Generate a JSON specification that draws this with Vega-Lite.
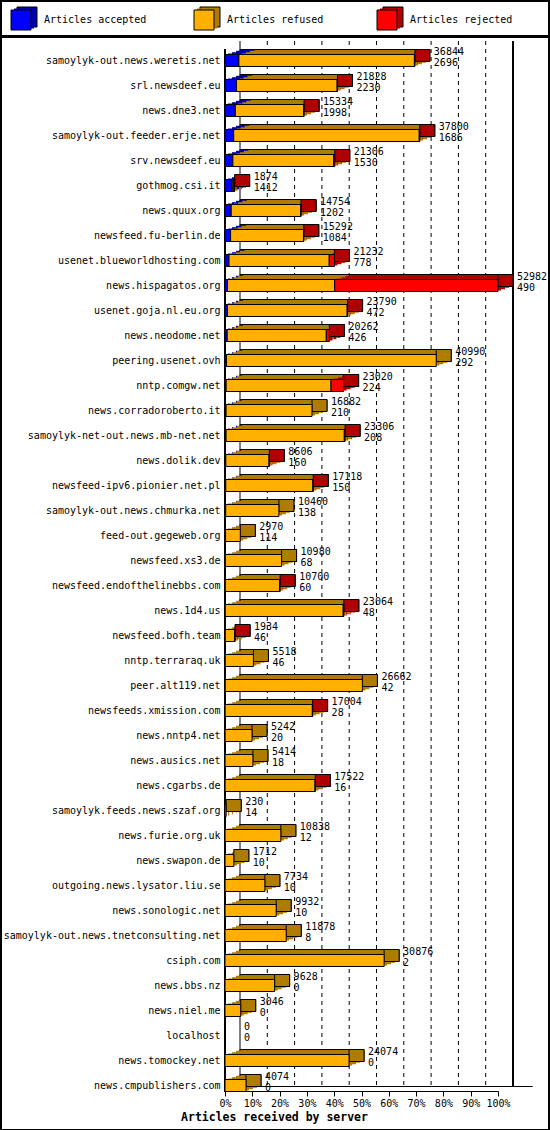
{
  "$schema": "https://vega.github.io/schema/vega-lite/v6.json",
  "padding": 0,
  "background": "white",
  "spacing": -2,
  "datasets": {
    "servers": [
      {"s": "samoylyk-out.news.weretis.net", "total": 36844, "accepted": 2696, "refused": 34068, "rejected": 80, "last": "rejected"},
      {"s": "srl.newsdeef.eu", "total": 21828, "accepted": 2230, "refused": 19538, "rejected": 60, "last": "rejected"},
      {"s": "news.dne3.net", "total": 15334, "accepted": 1998, "refused": 13286, "rejected": 50, "last": "rejected"},
      {"s": "samoylyk-out.feeder.erje.net", "total": 37800, "accepted": 1686, "refused": 36014, "rejected": 100, "last": "rejected"},
      {"s": "srv.newsdeef.eu", "total": 21306, "accepted": 1530, "refused": 19576, "rejected": 200, "last": "rejected"},
      {"s": "gothmog.csi.it", "total": 1874, "accepted": 1412, "refused": 310, "rejected": 152, "last": "rejected"},
      {"s": "news.quux.org", "total": 14754, "accepted": 1202, "refused": 13492, "rejected": 60, "last": "rejected"},
      {"s": "newsfeed.fu-berlin.de", "total": 15292, "accepted": 1084, "refused": 14148, "rejected": 60, "last": "rejected"},
      {"s": "usenet.blueworldhosting.com", "total": 21232, "accepted": 778, "refused": 19454, "rejected": 1000, "last": "rejected"},
      {"s": "news.hispagatos.org", "total": 52982, "accepted": 490, "refused": 20802, "rejected": 31690, "last": "rejected"},
      {"s": "usenet.goja.nl.eu.org", "total": 23790, "accepted": 472, "refused": 23238, "rejected": 80, "last": "rejected"},
      {"s": "news.neodome.net", "total": 20262, "accepted": 426, "refused": 19236, "rejected": 600, "last": "rejected"},
      {"s": "peering.usenet.ovh", "total": 40990, "accepted": 292, "refused": 40698, "rejected": 0, "last": "refused"},
      {"s": "nntp.comgw.net", "total": 23020, "accepted": 224, "refused": 20346, "rejected": 2450, "last": "rejected"},
      {"s": "news.corradoroberto.it", "total": 16882, "accepted": 210, "refused": 16672, "rejected": 0, "last": "refused"},
      {"s": "samoylyk-net-out.news.mb-net.net", "total": 23306, "accepted": 208, "refused": 22948, "rejected": 150, "last": "rejected"},
      {"s": "news.dolik.dev", "total": 8606, "accepted": 160, "refused": 8396, "rejected": 50, "last": "rejected"},
      {"s": "newsfeed-ipv6.pionier.net.pl", "total": 17118, "accepted": 150, "refused": 16908, "rejected": 60, "last": "rejected"},
      {"s": "samoylyk-out.news.chmurka.net", "total": 10460, "accepted": 138, "refused": 10322, "rejected": 0, "last": "refused"},
      {"s": "feed-out.gegeweb.org", "total": 2970, "accepted": 114, "refused": 2856, "rejected": 0, "last": "refused"},
      {"s": "newsfeed.xs3.de", "total": 10980, "accepted": 68, "refused": 10912, "rejected": 0, "last": "refused"},
      {"s": "newsfeed.endofthelinebbs.com", "total": 10700, "accepted": 60, "refused": 10540, "rejected": 100, "last": "rejected"},
      {"s": "news.1d4.us", "total": 23064, "accepted": 48, "refused": 22896, "rejected": 120, "last": "rejected"},
      {"s": "newsfeed.bofh.team", "total": 1934, "accepted": 46, "refused": 1848, "rejected": 40, "last": "rejected"},
      {"s": "nntp.terraraq.uk", "total": 5518, "accepted": 46, "refused": 5472, "rejected": 0, "last": "refused"},
      {"s": "peer.alt119.net", "total": 26662, "accepted": 42, "refused": 26620, "rejected": 0, "last": "refused"},
      {"s": "newsfeeds.xmission.com", "total": 17004, "accepted": 28, "refused": 16926, "rejected": 50, "last": "rejected"},
      {"s": "news.nntp4.net", "total": 5242, "accepted": 20, "refused": 5222, "rejected": 0, "last": "refused"},
      {"s": "news.ausics.net", "total": 5414, "accepted": 18, "refused": 5396, "rejected": 0, "last": "refused"},
      {"s": "news.cgarbs.de", "total": 17522, "accepted": 16, "refused": 17466, "rejected": 40, "last": "rejected"},
      {"s": "samoylyk.feeds.news.szaf.org", "total": 230, "accepted": 14, "refused": 216, "rejected": 0, "last": "refused"},
      {"s": "news.furie.org.uk", "total": 10838, "accepted": 12, "refused": 10826, "rejected": 0, "last": "refused"},
      {"s": "news.swapon.de", "total": 1712, "accepted": 10, "refused": 1702, "rejected": 0, "last": "refused"},
      {"s": "outgoing.news.lysator.liu.se", "total": 7734, "accepted": 10, "refused": 7724, "rejected": 0, "last": "refused"},
      {"s": "news.sonologic.net", "total": 9932, "accepted": 10, "refused": 9922, "rejected": 0, "last": "refused"},
      {"s": "samoylyk-out.news.tnetconsulting.net", "total": 11878, "accepted": 8, "refused": 11870, "rejected": 0, "last": "refused"},
      {"s": "csiph.com", "total": 30876, "accepted": 2, "refused": 30874, "rejected": 0, "last": "refused"},
      {"s": "news.bbs.nz", "total": 9628, "accepted": 0, "refused": 9628, "rejected": 0, "last": "refused"},
      {"s": "news.niel.me", "total": 3046, "accepted": 0, "refused": 3046, "rejected": 0, "last": "refused"},
      {"s": "localhost", "total": 0, "accepted": 0, "refused": 0, "rejected": 0, "last": "refused"},
      {"s": "news.tomockey.net", "total": 24074, "accepted": 0, "refused": 24074, "rejected": 0, "last": "refused"},
      {"s": "news.cmpublishers.com", "total": 4074, "accepted": 0, "refused": 4074, "rejected": 0, "last": "refused"}
    ],
    "legend": [
      {"kind": "accepted", "label": "Articles accepted"},
      {"kind": "refused", "label": "Articles refused"},
      {"kind": "rejected", "label": "Articles rejected"}
    ],
    "ticks": [
      {"p": 0}, {"p": 10}, {"p": 20}, {"p": 30}, {"p": 40}, {"p": 50},
      {"p": 60}, {"p": 70}, {"p": 80}, {"p": 90}, {"p": 100}
    ]
  },
  "vconcat": [
    {
      "width": 548,
      "height": 35,
      "data": {"name": "legend"},
      "encoding": {
        "x": {
          "field": "kind",
          "type": "nominal",
          "scale": {"type": "point", "domain": ["accepted", "refused", "rejected"], "range": [20, 386], "padding": 0},
          "axis": null
        }
      },
      "layer": [
        {
          "mark": {"type": "square", "size": 400, "xOffset": 6, "yOffset": -1.5, "stroke": "black", "strokeWidth": 1, "opacity": 1},
          "encoding": {
            "fill": {
              "field": "kind",
              "type": "nominal",
              "scale": {"domain": ["accepted", "refused", "rejected"], "range": ["#0000a8", "#b07c00", "#b00000"]},
              "legend": null
            }
          }
        },
        {
          "mark": {"type": "square", "size": 400, "xOffset": 3, "yOffset": 0, "strokeWidth": 0, "opacity": 1},
          "encoding": {"fill": {"field": "kind", "type": "nominal", "legend": null}}
        },
        {
          "mark": {"type": "square", "size": 400, "yOffset": 1.5, "stroke": "black", "strokeWidth": 1, "opacity": 1},
          "encoding": {
            "color": {
              "field": "kind",
              "type": "nominal",
              "scale": {"domain": ["accepted", "refused", "rejected"], "range": ["#0000ff", "#ffb000", "#ff0000"]},
              "legend": null
            }
          }
        },
        {
          "mark": {"type": "text", "align": "left", "baseline": "middle", "dx": 23, "yOffset": 1.5, "font": "DejaVu Sans Mono", "fontSize": 10, "color": "black"},
          "encoding": {"text": {"field": "label"}}
        }
      ]
    },
    {
      "width": 548,
      "height": 1093,
      "layer": [
        {
          "data": {"name": "ticks"},
          "layer": [
            {
              "mark": {"type": "rule", "color": "black", "yOffset": -19.5, "y2Offset": 1},
              "encoding": {
                "x": {"field": "p", "type": "quantitative", "scale": {"domain": [0, 100], "range": [239, 512], "nice": false, "zero": false}, "axis": null},
                "y": {"datum": "samoylyk-out.news.weretis.net", "type": "nominal"},
                "y2": {"datum": "news.cmpublishers.com"},
                "strokeDash": {
                  "condition": {"test": "datum.p == 0 || datum.p == 100", "value": [1, 0]},
                  "value": [4, 4]
                },
                "strokeWidth": {
                  "condition": {"test": "datum.p == 100", "value": 2},
                  "value": 1
                }
              }
            },
            {
              "mark": {"type": "rule", "color": "black", "strokeWidth": 1, "yOffset": 1},
              "encoding": {
                "x": {"datum": 0, "type": "quantitative"},
                "x2": {"datum": 107},
                "y": {"datum": "news.cmpublishers.com", "type": "nominal"}
              }
            }
          ]
        },
        {
          "data": {"name": "servers"},
          "layer": [
            {
              "mark": {"type": "rule", "color": "black", "strokeWidth": 1, "yOffset": -11.5, "y2Offset": 6},
              "encoding": {
                "x": {"datum": 0, "type": "quantitative"},
                "y": {"datum": "samoylyk-out.news.weretis.net", "type": "nominal"},
                "y2": {"datum": "news.cmpublishers.com"}
              }
            },
            {
              "transform": [
                {"fold": ["accepted", "refused", "rejected"], "as": ["kind", "n"]},
                {"filter": "datum.n > 0"}
              ],
              "mark": {"type": "bar", "xOffset": 15, "x2Offset": 15, "yOffset": -5, "y2Offset": -5, "stroke": "black", "strokeWidth": 1, "opacity": 1},
              "encoding": {
                "y": {"field": "s", "type": "nominal"},
                "x": {"field": "n", "type": "quantitative", "stack": "zero"},
                "fill": {
                  "field": "kind",
                  "type": "nominal",
                  "scale": {"domain": ["accepted", "refused", "rejected"], "range": ["#0000a8", "#b07c00", "#b00000"]},
                  "legend": null
                }
              }
            },
            {
              "transform": [
                {"fold": ["accepted", "refused", "rejected"], "as": ["kind", "n"]},
                {"filter": "datum.n > 0"}
              ],
              "mark": {"type": "bar", "xOffset": 11, "x2Offset": 11, "yOffset": -3.7, "y2Offset": -3.7, "strokeWidth": 0, "opacity": 1},
              "encoding": {
                "y": {"field": "s", "type": "nominal"},
                "x": {"field": "n", "type": "quantitative", "stack": "zero"},
                "fill": {"field": "kind", "type": "nominal", "legend": null}
              }
            },
            {
              "transform": [
                {"fold": ["accepted", "refused", "rejected"], "as": ["kind", "n"]},
                {"filter": "datum.n > 0"}
              ],
              "mark": {"type": "bar", "xOffset": 7, "x2Offset": 7, "yOffset": -2.3, "y2Offset": -2.3, "strokeWidth": 0, "opacity": 1},
              "encoding": {
                "y": {"field": "s", "type": "nominal"},
                "x": {"field": "n", "type": "quantitative", "stack": "zero"},
                "fill": {"field": "kind", "type": "nominal", "legend": null}
              }
            },
            {
              "transform": [
                {"fold": ["accepted", "refused", "rejected"], "as": ["kind", "n"]},
                {"filter": "datum.n > 0"}
              ],
              "mark": {"type": "bar", "xOffset": 3, "x2Offset": 3, "yOffset": -1, "y2Offset": -1, "strokeWidth": 0, "opacity": 1},
              "encoding": {
                "y": {"field": "s", "type": "nominal"},
                "x": {"field": "n", "type": "quantitative", "stack": "zero"},
                "fill": {"field": "kind", "type": "nominal", "legend": null}
              }
            },
            {
              "transform": [{"filter": "datum.total > 0"}],
              "mark": {"type": "bar", "x2Offset": 15, "yOffset": -5, "y2Offset": -5, "stroke": "black", "strokeWidth": 1, "opacity": 1},
              "encoding": {
                "y": {"field": "s", "type": "nominal"},
                "x": {"field": "total", "type": "quantitative"},
                "x2": {"field": "total"},
                "fill": {"field": "last", "type": "nominal", "legend": null}
              }
            },
            {
              "transform": [
                {"fold": ["accepted", "refused", "rejected"], "as": ["kind", "n"]},
                {"filter": "datum.n > 0"}
              ],
              "mark": {"type": "bar", "stroke": "black", "strokeWidth": 1, "opacity": 1},
              "encoding": {
                "y": {
                  "field": "s",
                  "type": "nominal",
                  "sort": null,
                  "scale": {
                    "domain": [
                      "samoylyk-out.news.weretis.net", "srl.newsdeef.eu", "news.dne3.net", "samoylyk-out.feeder.erje.net",
                      "srv.newsdeef.eu", "gothmog.csi.it", "news.quux.org", "newsfeed.fu-berlin.de",
                      "usenet.blueworldhosting.com", "news.hispagatos.org", "usenet.goja.nl.eu.org", "news.neodome.net",
                      "peering.usenet.ovh", "nntp.comgw.net", "news.corradoroberto.it", "samoylyk-net-out.news.mb-net.net",
                      "news.dolik.dev", "newsfeed-ipv6.pionier.net.pl", "samoylyk-out.news.chmurka.net", "feed-out.gegeweb.org",
                      "newsfeed.xs3.de", "newsfeed.endofthelinebbs.com", "news.1d4.us", "newsfeed.bofh.team",
                      "nntp.terraraq.uk", "peer.alt119.net", "newsfeeds.xmission.com", "news.nntp4.net",
                      "news.ausics.net", "news.cgarbs.de", "samoylyk.feeds.news.szaf.org", "news.furie.org.uk",
                      "news.swapon.de", "outgoing.news.lysator.liu.se", "news.sonologic.net", "samoylyk-out.news.tnetconsulting.net",
                      "csiph.com", "news.bbs.nz", "news.niel.me", "localhost", "news.tomockey.net", "news.cmpublishers.com"
                    ],
                    "range": [11, 1061],
                    "paddingInner": 0.52,
                    "paddingOuter": 0.26
                  },
                  "axis": {
                    "title": null,
                    "orient": "left",
                    "offset": -224,
                    "domain": false,
                    "ticks": false,
                    "labelPadding": 5,
                    "labelLimit": 400,
                    "labelFont": "DejaVu Sans Mono",
                    "labelFontSize": 10,
                    "labelColor": "black"
                  }
                },
                "x": {
                  "field": "n",
                  "type": "quantitative",
                  "stack": "zero",
                  "scale": {"domain": [0, 52982], "range": [224, 497], "nice": false},
                  "axis": {
                    "orient": "bottom",
                    "offset": -39,
                    "values": [0, 5298.2, 10596.4, 15894.6, 21192.8, 26491, 31789.2, 37087.4, 42385.6, 47683.8, 52982],
                    "labelExpr": "format(datum.value / 52982, '.0%')",
                    "grid": false,
                    "domainColor": "black",
                    "tickColor": "black",
                    "tickSize": 5,
                    "labelPadding": 2,
                    "labelFont": "DejaVu Sans Mono",
                    "labelFontSize": 10,
                    "labelColor": "black",
                    "labelOverlap": false,
                    "labelFlush": false,
                    "title": "Articles received by server",
                    "titleFont": "DejaVu Sans Mono",
                    "titleFontSize": 11.5,
                    "titleFontWeight": "bold",
                    "titleColor": "black",
                    "titleAlign": "center",
                    "titleBaseline": "middle",
                    "titleAnchor": null,
                    "titleX": 273,
                    "titleY": 26
                  }
                },
                "color": {
                  "field": "kind",
                  "type": "nominal",
                  "scale": {"domain": ["accepted", "refused", "rejected"], "range": ["#0000ff", "#ffb000", "#ff0000"]},
                  "legend": null
                }
              }
            },
            {
              "mark": {"type": "text", "align": "left", "baseline": "middle", "dx": 19, "dy": -9, "font": "DejaVu Sans Mono", "fontSize": 10, "color": "black"},
              "encoding": {
                "y": {"field": "s", "type": "nominal"},
                "x": {"field": "total", "type": "quantitative"},
                "text": {"field": "total", "type": "quantitative", "format": "d"}
              }
            },
            {
              "mark": {"type": "text", "align": "left", "baseline": "middle", "dx": 19, "dy": 2, "font": "DejaVu Sans Mono", "fontSize": 10, "color": "black"},
              "encoding": {
                "y": {"field": "s", "type": "nominal"},
                "x": {"field": "total", "type": "quantitative"},
                "text": {"field": "accepted", "type": "quantitative", "format": "d"}
              }
            }
          ]
        }
      ],
      "resolve": {"scale": {"x": "independent"}, "axis": {"x": "independent"}}
    }
  ],
  "config": {
    "view": {"stroke": "black", "strokeWidth": 2},
    "font": "DejaVu Sans Mono",
    "text": {"font": "DejaVu Sans Mono", "fontSize": 10}
  }
}
